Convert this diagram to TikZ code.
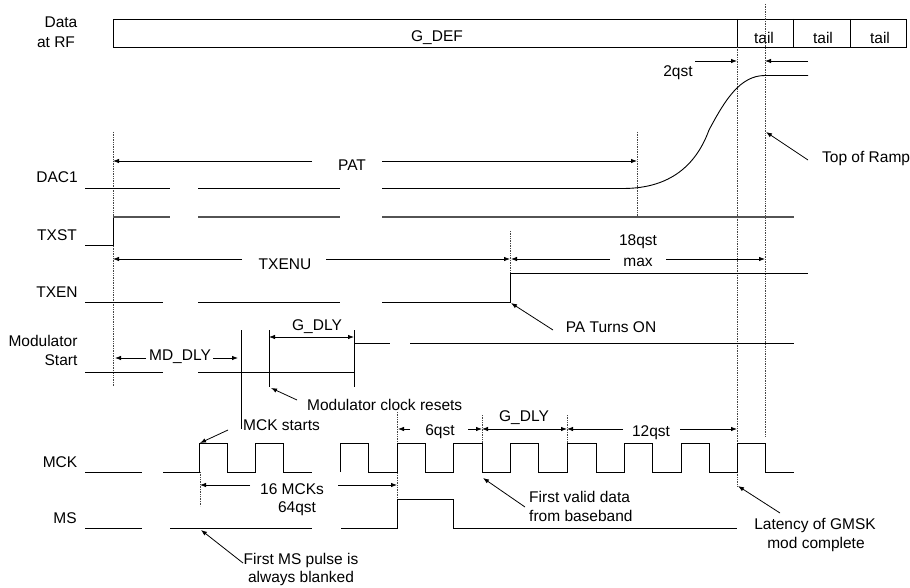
\documentclass[tikz,border=0pt]{standalone}
\usepackage{fontspec}
\setmainfont{Liberation Sans}
\usetikzlibrary{arrows.meta}
\begin{document}
\begin{tikzpicture}[x=1pt,y=-1pt,
  sig/.style={line width=0.9pt, line join=miter},
  sigg/.style={line width=1.3pt, gray!65!black},
  guide/.style={densely dotted, line width=0.7pt, gray!55!black},
  dimarrow/.style={line width=0.8pt,-{Latex[length=6pt,width=4.5pt]}},
  dimboth/.style={line width=0.8pt,{Latex[length=6pt,width=4.5pt]}-{Latex[length=6pt,width=4.5pt]}},
  callout/.style={line width=0.8pt,-{Latex[length=6pt,width=4.5pt]}},
  lbl/.style={inner sep=0pt, font=\fontsize{15.5}{18}\selectfont}]
\useasboundingbox (0,0) rectangle (910,588);

% ---------- Data at RF ----------
\node[lbl] (lData) at (61,22) {Data};
\node[lbl] (lRF) at (56,42) {at RF};
\draw[sig] (113,19) rectangle (906,47);
\draw[sig] (737,19) -- (737,47);
\draw[sig] (793,19) -- (793,47);
\draw[sig] (850,19) -- (850,47);
\node[lbl] (gdef) at (437,38) {G\_DEF};
\node[lbl] (tail1) at (764,38) {tail};
\node[lbl] (tail2) at (823,38) {tail};
\node[lbl] (tail3) at (880,38) {tail};

% ---------- guide lines ----------
\draw[guide] (113,132) -- (113,386);
\draw[guide] (637,132) -- (637,217);
\draw[guide] (510,231) -- (510,273);
\draw[guide] (737,47) -- (737,486);
\draw[guide] (765,4) -- (765,437);
\draw[guide] (397,412) -- (397,499);
\draw[guide] (482,415) -- (482,443);
\draw[guide] (567,415) -- (567,443);
\draw[guide] (200,472) -- (200,506);

% ---------- 2qst ----------
\node[lbl] (q2) at (678,73) {2qst};
\draw[dimarrow] (695,61) -- (737,61);
\draw[dimarrow] (808,61) -- (765,61);

% ---------- DAC1 ----------
\node[lbl] (lDAC) at (57,177) {DAC1};
\draw[sig] (85,188.5) -- (170,188.5);
\draw[sig] (198,188.5) -- (340,188.5);
\draw[sig] (382,188.5) -- (623,188.5)
   .. controls (675,188.5) and (698,160) .. (709,130)
   .. controls (725,100) and (740,75.5) .. (765,75.5) -- (808,75.5);
\node[lbl] (pat) at (352,165) {PAT};
\draw[dimarrow] (312,161) -- (113,161);
\draw[dimarrow] (382,161) -- (637,161);
\node[lbl, anchor=west] (ramp) at (822,159) {Top of Ramp};
\draw[callout] (808,160) -- (766,132);

% ---------- TXST ----------
\node[lbl] (lTXST) at (57,235) {TXST};
\draw[sig] (85,245) -- (113,245) -- (113,217);
\draw[sigg] (113,217) -- (170,217);
\draw[sigg] (198,217) -- (340,217);
\draw[sigg] (382,217) -- (794,217);

% ---------- TXENU / 18qst ----------
\node[lbl] (txenu) at (285,264) {TXENU};
\draw[dimarrow] (242,259) -- (113,259);
\draw[dimarrow] (326,259) -- (510,259);
\node[lbl] (q18) at (638,242) {18qst};
\node[lbl] (qmax) at (638,262) {max};
\draw[dimarrow] (610,259) -- (511,259);
\draw[dimarrow] (666,259) -- (765,259);

% ---------- TXEN ----------
\node[lbl] (lTXEN) at (57,292) {TXEN};
\draw[sig] (85,302) -- (163,302);
\draw[sig] (198,302) -- (340,302);
\draw[sig] (382,302) -- (510,302) -- (510,273) -- (808,273);
\node[lbl] (paon) at (611,327) {PA Turns ON};
\draw[callout] (553,330) -- (511,303);

% ---------- Modulator Start ----------
\node[lbl] (lMod) at (43,341) {Modulator};
\node[lbl] (lStart) at (61,360) {Start};
\draw[sig] (85,372) -- (163,372);
\draw[sig] (198,372) -- (354,372);
\draw[sig] (354,330) -- (354,387);
\draw[sig] (354,343) -- (390,343);
\draw[sig] (410,343) -- (794,343);
\draw[sig] (241,330) -- (241,429);
\draw[sig] (269,330) -- (269,387);
\node[lbl] (mddly) at (180,357) {MD\_DLY};
\draw[dimarrow] (146,358) -- (115,358);
\draw[dimarrow] (213,358) -- (238,358);
\node[lbl] (gdly1) at (317,327) {G\_DLY};
\draw[dimboth] (269,337) -- (354,337);
\node[lbl, anchor=west] (mcr) at (307,405) {Modulator clock resets};
\draw[callout] (297,400) -- (271,388);
\node[lbl, anchor=west] (mcks) at (243,425) {MCK starts};
\draw[callout] (228,430) -- (200,443);

% ---------- 6qst / G_DLY / 12qst ----------
\node[lbl] (q6) at (440,432) {6qst};
\draw[dimarrow] (410,429) -- (398,429);
\draw[dimarrow] (468,429) -- (482,429);
\node[lbl] (gdly2) at (524,418) {G\_DLY};
\draw[dimboth] (482,429) -- (567,429);
\node[lbl] (q12) at (651,433) {12qst};
\draw[dimarrow] (623,429) -- (567,429);
\draw[dimarrow] (680,429) -- (737,429);

% ---------- MCK ----------
\node[lbl] (lMCK) at (60,462) {MCK};
\draw[sig] (85,472) -- (142,472);
\draw[sig] (163,472) -- (199,472) -- (199,443) -- (227,443) -- (227,472)
   -- (255,472) -- (255,443) -- (283,443) -- (283,472) -- (312,472);
\draw[sig] (340,472) -- (340,443) -- (368,443) -- (368,472) -- (397,472)
   -- (397,443) -- (425,443) -- (425,472) -- (453,472) -- (453,443)
   -- (482,443) -- (482,472) -- (510,472) -- (510,443) -- (538,443)
   -- (538,472) -- (567,472) -- (567,443) -- (596,443) -- (596,472)
   -- (624,472) -- (624,443) -- (652,443) -- (652,472) -- (681,472)
   -- (681,443) -- (709,443) -- (709,472) -- (737,472) -- (737,443)
   -- (765,443) -- (765,472) -- (794,472);

% ---------- 16 MCKs ----------
\node[lbl] (m16) at (292,489) {16 MCKs};
\node[lbl] (q64) at (297,509) {64qst};
\draw[dimarrow] (250,485) -- (200,485);
\draw[dimarrow] (338,485) -- (397,485);

% ---------- MS ----------
\node[lbl] (lMS) at (65,518) {MS};
\draw[sig] (85,528) -- (142,528);
\draw[sig] (170,528) -- (312,528);
\draw[sig] (341,528) -- (397,528) -- (397,499) -- (453,499) -- (453,528) -- (737,528);

% ---------- callouts bottom ----------
\node[lbl] (fms1) at (301,560) {First MS pulse is};
\node[lbl] (fms2) at (301,578) {always blanked};
\draw[callout] (243,563) -- (201,530);
\node[lbl, anchor=west] (fvd1) at (529,497) {First valid data};
\node[lbl, anchor=west] (fvd2) at (529,516) {from baseband};
\draw[callout] (525,507) -- (483,478);
\node[lbl] (lat1) at (815,525) {Latency of GMSK};
\node[lbl] (lat2) at (816,544) {mod complete};
\draw[callout] (780,513) -- (738,486);
\end{tikzpicture}
\end{document}
